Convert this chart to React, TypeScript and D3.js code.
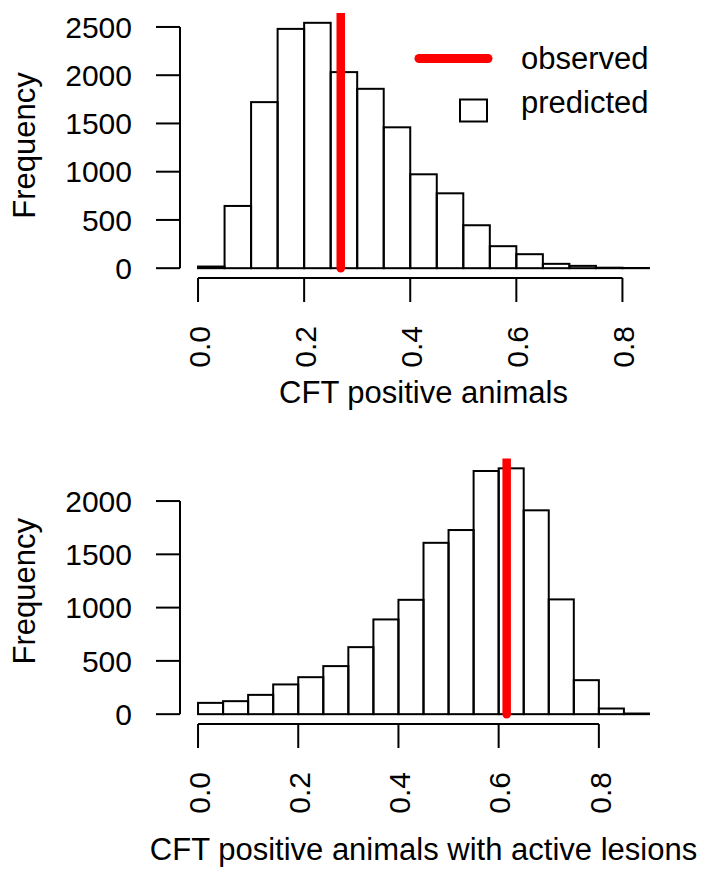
import React, { useEffect, useRef } from "react";
import * as d3 from "d3";

// histogram bins are 0.05 wide, starting at 0
const binWidth = 0.05;
const cftCounts = [17, 645, 1721, 2480, 2543, 2032, 1859, 1460, 973, 776, 445, 228, 145, 45, 24, 5, 2];
const lesionCounts = [106, 122, 181, 279, 347, 451, 629, 889, 1073, 1608, 1728, 2282, 2307, 1913, 1077, 319, 53, 6];
const cftObserved = 0.269;
const lesionObserved = 0.616;
const xTicks = [0, 0.2, 0.4, 0.6, 0.8];
const cftYTicks = [0, 500, 1000, 1500, 2000, 2500];
const lesionYTicks = [0, 500, 1000, 1500, 2000];
const xLabels = ["CFT positive animals", "CFT positive animals with active lesions"];
const legendLabels = ["observed", "predicted"];

const FONT = "'Liberation Sans', Arial, Helvetica, sans-serif";

type Panel = {
  id: string;
  counts: number[];
  observed: number;
  yTicks: number[];
  xLabel: string;
  top: number;
  bottom: number;
  xLabelY: number;
};

function App() {
  const ref = useRef<SVGSVGElement | null>(null);

  useEffect(() => {
    const svg = d3.select(ref.current);
    svg.selectAll("*").remove();

    const left = 180;
    const right = 667;

    const drawPanel = (p: Panel) => {
      const xmax = p.counts.length * binWidth;
      const ymax = d3.max(p.counts) || 1;
      const x = d3.scaleLinear().domain([-0.04 * xmax, 1.04 * xmax]).range([left, right]);
      const y = d3.scaleLinear().domain([-0.04 * ymax, 1.04 * ymax]).range([p.bottom, p.top]);

      svg.append("defs")
        .append("clipPath")
        .attr("id", `clip-${p.id}`)
        .append("rect")
        .attr("x", left)
        .attr("y", p.top)
        .attr("width", right - left)
        .attr("height", p.bottom - p.top);

      // bars
      svg.append("g")
        .selectAll("rect")
        .data(p.counts)
        .join("rect")
        .attr("x", (_, i) => x(i * binWidth))
        .attr("y", (d) => y(d))
        .attr("width", (_, i) => x((i + 1) * binWidth) - x(i * binWidth))
        .attr("height", (d) => y(0) - y(d))
        .attr("fill", "none")
        .attr("stroke", "#000")
        .attr("stroke-width", 2);

      // observed value
      svg.append("line")
        .attr("clip-path", `url(#clip-${p.id})`)
        .attr("x1", x(p.observed))
        .attr("x2", x(p.observed))
        .attr("y1", y(0))
        .attr("y2", p.top - 10)
        .attr("stroke", "#ff0000")
        .attr("stroke-width", 8.5)
        .attr("stroke-linecap", "round");

      // x axis
      const gx = svg.append("g");
      gx.append("line")
        .attr("x1", x(xTicks[0]))
        .attr("x2", x(xTicks[xTicks.length - 1]))
        .attr("y1", p.bottom)
        .attr("y2", p.bottom)
        .attr("stroke", "#000")
        .attr("stroke-width", 2);
      xTicks.forEach((t) => {
        gx.append("line")
          .attr("x1", x(t))
          .attr("x2", x(t))
          .attr("y1", p.bottom)
          .attr("y2", p.bottom + 24)
          .attr("stroke", "#000")
          .attr("stroke-width", 2);
        gx.append("text")
          .attr("transform", `translate(${x(t) + 1},${p.bottom + 48}) rotate(-90)`)
          .attr("text-anchor", "end")
          .attr("dy", "0.36em")
          .style("font-family", FONT)
          .style("font-size", "30px")
          .text(d3.format(".1f")(t));
      });

      // y axis
      const gy = svg.append("g");
      gy.append("line")
        .attr("x1", left)
        .attr("x2", left)
        .attr("y1", y(p.yTicks[0]))
        .attr("y2", y(p.yTicks[p.yTicks.length - 1]))
        .attr("stroke", "#000")
        .attr("stroke-width", 2);
      p.yTicks.forEach((t) => {
        gy.append("line")
          .attr("x1", left - 24)
          .attr("x2", left)
          .attr("y1", y(t))
          .attr("y2", y(t))
          .attr("stroke", "#000")
          .attr("stroke-width", 2);
        gy.append("text")
          .attr("x", 132)
          .attr("y", y(t))
          .attr("dy", "0.36em")
          .attr("text-anchor", "end")
          .style("font-family", FONT)
          .style("font-size", "30px")
          .text(t);
      });

      svg.append("text")
        .attr("transform", `translate(35,${(p.top + p.bottom) / 2}) rotate(-90)`)
        .attr("text-anchor", "middle")
        .style("font-family", FONT)
        .style("font-size", "31px")
        .text("Frequency");

      svg.append("text")
        .attr("x", (left + right) / 2)
        .attr("y", p.xLabelY)
        .attr("text-anchor", "middle")
        .style("font-family", FONT)
        .style("font-size", "31px")
        .text(p.xLabel);
    };

    drawPanel({
      id: "cft",
      counts: cftCounts,
      observed: cftObserved,
      yTicks: cftYTicks,
      xLabel: xLabels[0],
      top: 13,
      bottom: 278,
      xLabelY: 403,
    });
    drawPanel({
      id: "lesion",
      counts: lesionCounts,
      observed: lesionObserved,
      yTicks: lesionYTicks,
      xLabel: xLabels[1],
      top: 458.5,
      bottom: 724,
      xLabelY: 860,
    });

    // legend (top panel)
    const lg = svg.append("g");
    lg.append("line")
      .attr("x1", 419)
      .attr("x2", 488)
      .attr("y1", 58.5)
      .attr("y2", 58.5)
      .attr("stroke", "#ff0000")
      .attr("stroke-width", 9)
      .attr("stroke-linecap", "round");
    lg.append("rect")
      .attr("x", 460)
      .attr("y", 99.5)
      .attr("width", 27)
      .attr("height", 22)
      .attr("fill", "none")
      .attr("stroke", "#000")
      .attr("stroke-width", 2);
    legendLabels.forEach((d, i) => {
      lg.append("text")
        .attr("x", 521)
        .attr("y", 68.5 + i * 44.5)
        .style("font-family", FONT)
        .style("font-size", "31px")
        .text(d);
    });
  }, []);

  return (
    <svg
      ref={ref}
      width={714}
      height={870}
      style={{ position: "absolute", left: 0, top: 0, background: "#fff" }}
    />
  );
}

export default App;
